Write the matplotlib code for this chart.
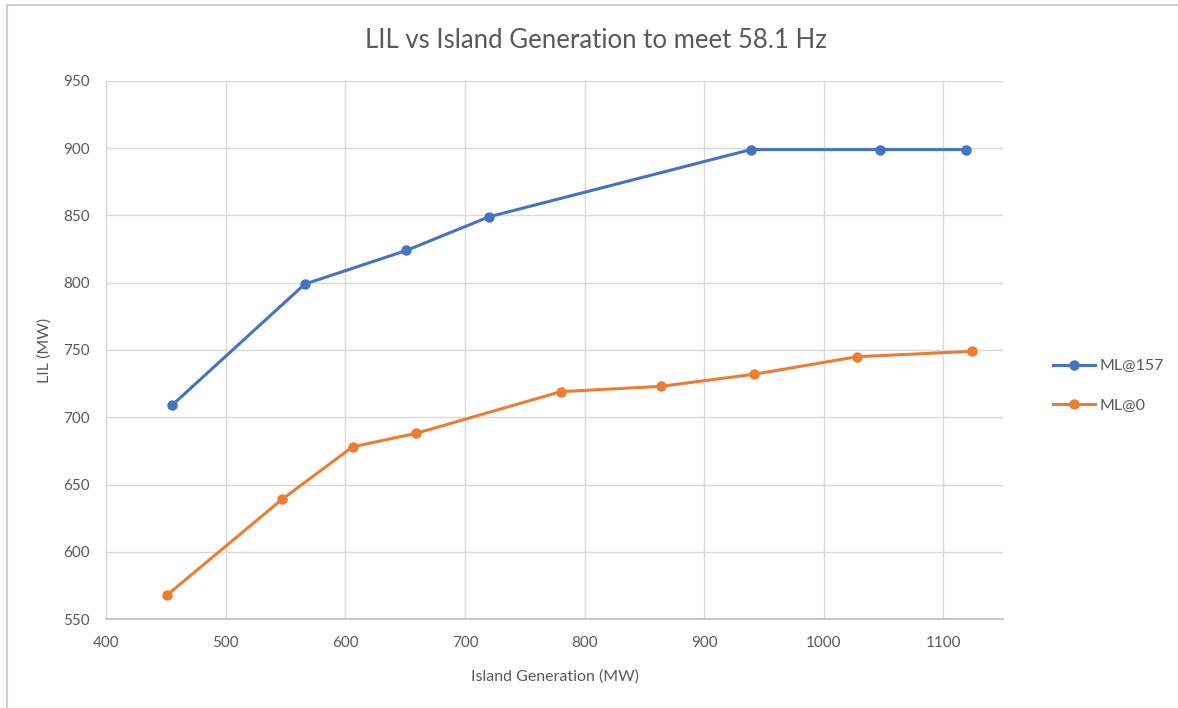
import matplotlib.pyplot as plt
from matplotlib.lines import Line2D

plt.rcParams['font.family'] = ['Lato', 'DejaVu Sans']

# series
gen_157 = [455, 566, 651, 720, 939, 1047, 1119]
lil_157 = [709, 799, 824, 849, 899, 899, 899]
gen_0 = [451, 547, 606, 659, 780, 864, 942, 1028, 1124]
lil_0 = [568, 639, 678, 688, 719, 723, 732, 745, 749]

x_ticks = [400, 500, 600, 700, 800, 900, 1000, 1100]
y_ticks = [550, 600, 650, 700, 750, 800, 850, 900, 950]

blue = "#4472C4"
orange = "#ED7D31"
grid_col = "#D9D9D9"
text_col = "#595959"

fig = plt.figure(figsize=(11.78, 7.08), dpi=100)
ax = fig.add_axes([0.0903, 0.1257, 0.7611, 0.7599])

ax.plot(gen_157, lil_157, color=blue, lw=2.2, marker="o", ms=6.5, label="ML@157", zorder=3)
ax.plot(gen_0, lil_0, color=orange, lw=2.2, marker="o", ms=6.5, label="ML@0", zorder=3)

ax.set_xlim(400, 1150)
ax.set_ylim(550, 950)
ax.set_xticks(x_ticks)
ax.set_yticks(y_ticks)
ax.grid(True, color=grid_col, lw=1)
ax.set_axisbelow(True)
for s in ["top", "right"]:
    ax.spines[s].set_visible(False)
ax.spines["left"].set_color(grid_col)
ax.spines["bottom"].set_color("#BFBFBF")
ax.spines["bottom"].set_linewidth(1.2)
ax.tick_params(length=0, labelsize=11, labelcolor=text_col, pad=12)

fig.text(0.506, 0.943, "LIL vs Island Generation to meet 58.1 Hz", fontsize=18.5,
         color=text_col, ha="center", va="center")
ax.set_xlabel("Island Generation (MW)", fontsize=11.5, color=text_col, labelpad=14)
ax.set_ylabel("LIL (MW)", fontsize=11.5, color=text_col, labelpad=8)

ax.legend(loc="center left", bbox_to_anchor=(1.04, 0.433), frameon=False,
          fontsize=11.5, labelcolor=text_col, handlelength=2.6, handletextpad=0.3,
          labelspacing=1.6)

# chart area border (top and left only visible)
fig.add_artist(Line2D([0.006, 1.0], [0.993, 0.993], color="#D0D0D0", lw=1.5))
fig.add_artist(Line2D([0.006, 0.006], [0.0, 0.993], color="#D0D0D0", lw=1.5))

fig.savefig("out.png", dpi=100)
